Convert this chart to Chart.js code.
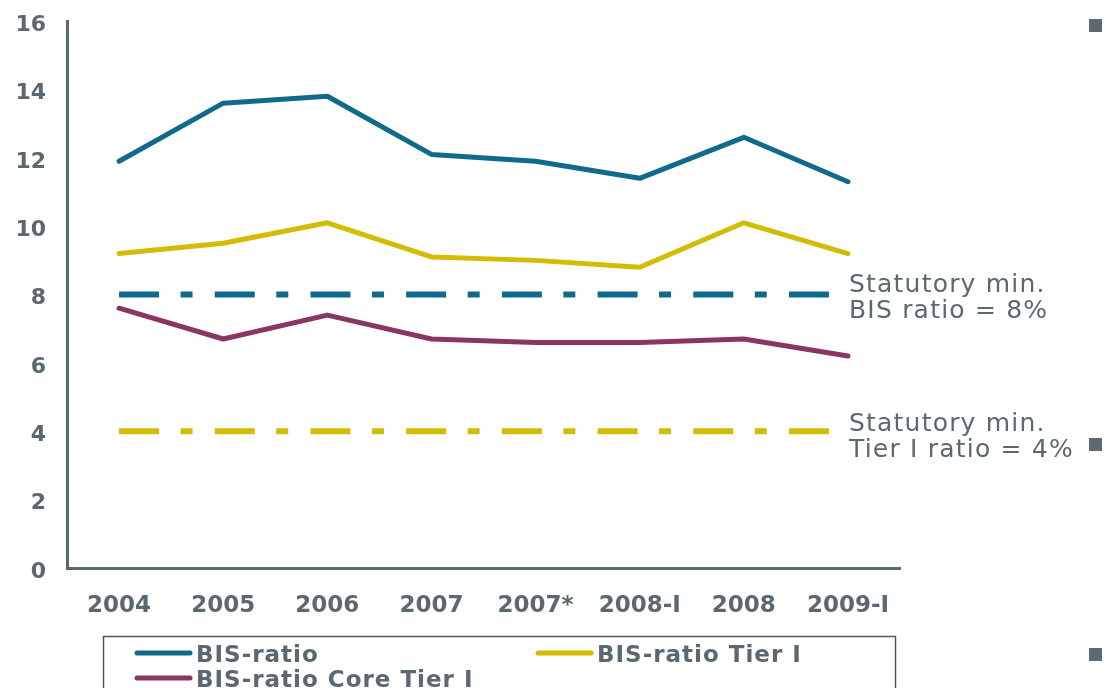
<!DOCTYPE html>
<html>
<head>
<meta charset="utf-8">
<script src="https://cdn.jsdelivr.net/npm/chart.js@4/dist/chart.umd.min.js"></script>
<style>
  html, body { margin: 0; padding: 0; background: #fff; }
  #wrap { width: 1106px; height: 688px; position: relative; }
</style>
</head>
<body>
<div id="wrap"><canvas id="myChart" width="1106" height="688"></canvas></div>
<script>
const categories = ['2004', '2005', '2006', '2007', '2007*', '2008-I', '2008', '2009-I']
const bisRatio = [11.9, 13.6, 13.8, 12.1, 11.9, 11.4, 12.6, 11.3]
const tierOne = [9.2, 9.5, 10.1, 9.1, 9.0, 8.8, 10.1, 9.2]
const coreTierOne = [7.6, 6.7, 7.4, 6.7, 6.6, 6.6, 6.7, 6.2]
const bisMinimum = [8, 8, 8, 8, 8, 8, 8, 8]
const tierMinimum = [4, 4, 4, 4, 4, 4, 4, 4]
const yTicks = [0, 2, 4, 6, 8, 10, 12, 14, 16]

const blue = '#0f6a8b'
const yellow = '#d4bb05'
const purple = '#8a3662'
const grey = '#5b6870'

// notes next to the dashed minimum lines
const notes = [
    { value: 8, dy: -3, lines: ['Statutory min.', 'BIS ratio = 8%'] },
    { value: 4, dy: 0, lines: ['Statutory min.', 'Tier I ratio = 4%'] }
]

const extras = {
    id: 'extras',
    afterDraw(chart) {
        const c = chart.ctx
        const y = chart.scales.y
        c.save()
        // annotations
        c.fillStyle = grey
        c.font = '25px "DejaVu Sans"'
        c.letterSpacing = '1.2px'
        c.textAlign = 'left'
        c.textBaseline = 'alphabetic'
        notes.forEach(n => {
            const py = y.getPixelForValue(n.value) + n.dy
            n.lines.forEach((t, i) => c.fillText(t, 849, py + i * 26))
        })
        // bullet squares at right edge
        c.fillStyle = '#5d6a72'
        ;[19, 438, 648].forEach(top => c.fillRect(1089, top, 13, 13))
        // legend box
        c.letterSpacing = '1px'
        c.strokeStyle = '#555'
        c.lineWidth = 1.5
        c.strokeRect(103.5, 636.5, 792, 80)
        const items = [
            { ds: 0, x: 137, y: 653 },
            { ds: 1, x: 538, y: 653 },
            { ds: 2, x: 137, y: 678 }
        ]
        c.font = 'bold 23px "DejaVu Sans"'
        c.lineCap = 'round'
        items.forEach(it => {
            const ds = chart.data.datasets[it.ds]
            c.strokeStyle = ds.borderColor
            c.lineWidth = 5
            c.beginPath()
            c.moveTo(it.x, it.y)
            c.lineTo(it.x + 53, it.y)
            c.stroke()
            c.fillStyle = grey
            c.fillText(ds.label, it.x + 59, it.y + 9)
        })
        c.restore()
    }
}

const ctx = document.getElementById('myChart')

new Chart(ctx, {
    type: 'line',
    data: {
        labels: categories,
        datasets: [
            { label: 'BIS-ratio', data: bisRatio, borderColor: blue, borderWidth: 5 },
            { label: 'BIS-ratio Tier I', data: tierOne, borderColor: yellow, borderWidth: 5 },
            { label: 'BIS-ratio Core Tier I', data: coreTierOne, borderColor: purple, borderWidth: 5 },
            { label: 'Statutory min. BIS ratio', data: bisMinimum, borderColor: blue, borderWidth: 6,
              borderDash: [40, 21.5, 12, 22.2], borderCapStyle: 'butt' },
            { label: 'Statutory min. Tier I ratio', data: tierMinimum, borderColor: yellow, borderWidth: 6,
              borderDash: [40, 21.5, 12, 22.2], borderCapStyle: 'butt' }
        ]
    },
    options: {
        responsive: false,
        animation: false,
        devicePixelRatio: 1,
        layout: { autoPadding: false, padding: { top: 21, right: 206, bottom: 0, left: 0 } },
        elements: {
            point: { radius: 0 },
            line: { tension: 0, borderCapStyle: 'round', borderJoinStyle: 'round', fill: false }
        },
        plugins: { legend: { display: false }, tooltip: { enabled: false } },
        scales: {
            x: {
                offset: true,
                grid: { display: false, drawTicks: false },
                border: { color: grey, width: 3 },
                ticks: { color: grey, padding: 24, font: { family: 'DejaVu Sans', size: 23, weight: 'bold' } },
                afterFit(axis) { axis.height = 120 }
            },
            y: {
                min: 0,
                max: 16,
                afterBuildTicks(axis) { axis.ticks = yTicks.map(v => ({ value: v })) },
                grid: { display: false, drawTicks: false },
                border: { color: grey, width: 3 },
                // tiny lineHeight so the labels don't push the plot down
                ticks: { color: grey, padding: 21, labelOffset: 4, font: { family: 'DejaVu Sans', size: 22, weight: 'bold', lineHeight: 0.01 } },
                afterFit(axis) { axis.width = 67 }
            }
        }
    },
    plugins: [extras]
})
</script>
</body>
</html>
